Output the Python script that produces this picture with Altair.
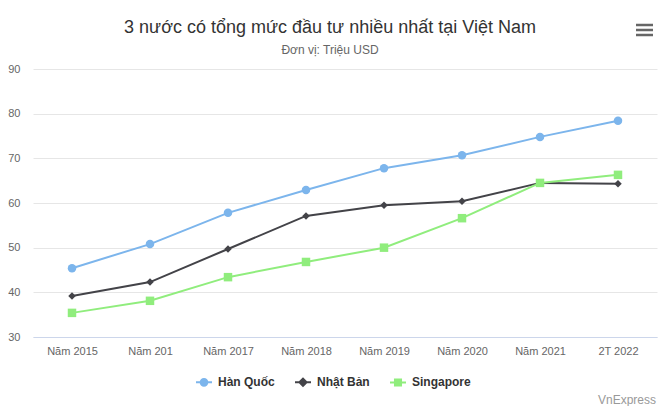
import altair as alt
import pandas as pd

years = ["Năm 2015", "Năm 201", "Năm 2017", "Năm 2018", "Năm 2019", "Năm 2020", "Năm 2021", "2T 2022"]
series_names = ["Hàn Quốc", "Nhật Bản", "Singapore"]
han_quoc = [45.4, 50.8, 57.8, 62.9, 67.8, 70.7, 74.8, 78.4]
nhat_ban = [39.2, 42.3, 49.7, 57.1, 59.5, 60.4, 64.5, 64.3]
singapore = [35.4, 38.1, 43.4, 46.8, 50.0, 56.6, 64.5, 66.3]
colors = ["#7cb5ec", "#434348", "#90ed7d"]
y_ticks = [30, 40, 50, 60, 70, 80, 90]
title_text = "3 nước có tổng mức đầu tư nhiều nhất tại Việt Nam"
subtitle_text = "Đơn vị: Triệu USD"
credit_text = "VnExpress"

rows = []
for name, vals in zip(series_names, [han_quoc, nhat_ban, singapore]):
    for yr, v in zip(years, vals):
        rows.append({"year": yr, "series": name, "value": v})
df = pd.DataFrame(rows)

FONT = "Liberation Sans"
W, H = 624, 268

color_scale = alt.Scale(domain=series_names, range=colors)
x_enc = alt.X("year:N", sort=years, scale=alt.Scale(type="point", padding=0.5),
              axis=alt.Axis(title=None, labelAngle=0, labelAlign="center", labelBaseline="top",
                            ticks=False, domainColor="#ccd6eb",
                            labelColor="#666666", labelFontSize=11, labelFont=FONT,
                            labelPadding=8, grid=False))
y_enc = alt.Y("value:Q", scale=alt.Scale(domain=[30, 90], nice=False, zero=False),
              axis=alt.Axis(title=None, values=y_ticks, domain=False, ticks=False,
                            gridColor="#e6e6e6", labelColor="#666666", labelFontSize=11,
                            labelFont=FONT, labelPadding=13))

base = alt.Chart(df)

legend_paths = [
    "M-1,0L1,0M-0.42,0A0.42,0.42,0,1,1,0.42,0A0.42,0.42,0,1,1,-0.42,0Z",
    "M-1,0L1,0M-0.45,0L0,-0.45L0.45,0L0,0.45Z",
    "M-1,0L1,0M-0.38,-0.38L0.38,-0.38L0.38,0.38L-0.38,0.38Z",
]
leg = alt.Legend(orient="none", legendX=162, legendY=304, direction="horizontal", title=None)
# legend-only layer: its marks sit outside the clipped plot so only the legend shows
legend_layer = base.mark_point(filled=True, opacity=1, clip=True, strokeWidth=2).encode(
    x=x_enc,
    y=alt.value(-1000),
    fill=alt.Fill("series:N", scale=color_scale, title=None, legend=leg),
    stroke=alt.Stroke("series:N", scale=color_scale, title=None, legend=leg),
    shape=alt.Shape("series:N", scale=alt.Scale(domain=series_names, range=legend_paths),
                    title=None, legend=leg),
)

lines = base.mark_line(strokeWidth=2).encode(
    x=x_enc, y=y_enc,
    color=alt.Color("series:N", scale=color_scale, legend=None),
    detail="series:N",
)

shapes = ["circle", "diamond", "square"]
sizes = [72, 56, 72]
point_layers = []
for name, shp, sz in zip(series_names, shapes, sizes):
    point_layers.append(
        base.transform_filter(alt.datum.series == name).mark_point(
            filled=True, opacity=1, shape=shp, size=sz
        ).encode(
            x=x_enc,
            y=y_enc,
            color=alt.Color("series:N", scale=color_scale, legend=None),
        )
    )

texts = alt.Chart(pd.DataFrame({"t": [title_text]})).mark_text(
    align="center", baseline="alphabetic", font=FONT, fontSize=18, color="#333333"
).encode(x=alt.value(297), y=alt.value(-36), text="t:N")
subtitle = alt.Chart(pd.DataFrame({"t": [subtitle_text]})).mark_text(
    align="center", baseline="alphabetic", font=FONT, fontSize=12, color="#666666"
).encode(x=alt.value(297), y=alt.value(-15), text="t:N")
credit = alt.Chart(pd.DataFrame({"t": [credit_text]})).mark_text(
    align="right", baseline="alphabetic", font=FONT, fontSize=12, color="#999999"
).encode(x=alt.value(623), y=alt.value(335), text="t:N")

menu = alt.Chart(pd.DataFrame({"k": [0, 1, 2], "yy": [-44, -39, -34]})).mark_rule(
    strokeWidth=2.5, color="#666666"
).encode(x=alt.value(603), x2=alt.value(620), y=alt.Y("yy:Q", scale=None))

chart = alt.layer(legend_layer, lines, *point_layers, texts, subtitle, credit, menu).properties(
    width=W, height=H,
    autosize=alt.AutoSizeParams(type="none"),
    padding={"left": 25, "top": 61, "right": 7, "bottom": 69},
).configure_view(stroke=None).configure_legend(
    labelFont=FONT, labelFontSize=12, labelFontWeight="bold", labelColor="#333333",
    symbolSize=256, symbolStrokeWidth=2, labelOffset=5, columnPadding=16, padding=0,
)

chart.save("out.html", embed_options={"renderer": "svg", "actions": False})
